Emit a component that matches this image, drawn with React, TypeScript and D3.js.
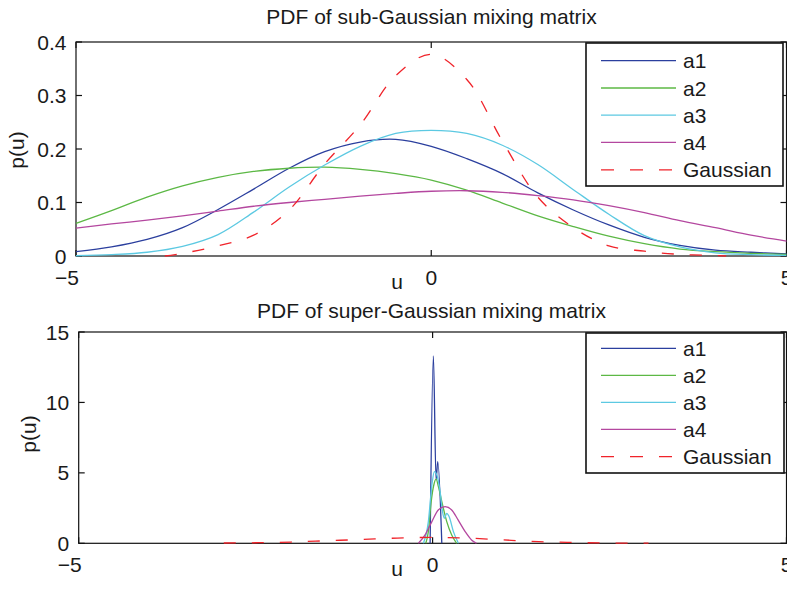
import React from "react";
import * as d3 from "d3";

// ---------- data ----------
const uGrid = [-5, -4.5, -4, -3.5, -3, -2.5, -2, -1.5, -1, -0.5, 0, 0.5, 1, 1.5, 2, 2.5, 3, 3.5, 4, 4.5, 5];
const subA1 = [0.008, 0.017, 0.031, 0.053, 0.087, 0.125, 0.164, 0.195, 0.213, 0.218, 0.205, 0.182, 0.154, 0.118, 0.086, 0.058, 0.035, 0.02, 0.011, 0.007, 0.004];
const subA2 = [0.061, 0.085, 0.11, 0.131, 0.147, 0.158, 0.164, 0.166, 0.162, 0.154, 0.142, 0.123, 0.099, 0.075, 0.055, 0.037, 0.023, 0.013, 0.008, 0.005, 0.003];
const subA3 = [0.0005, 0.0025, 0.007, 0.018, 0.04, 0.082, 0.129, 0.17, 0.205, 0.229, 0.235, 0.229, 0.207, 0.171, 0.124, 0.078, 0.038, 0.017, 0.006, 0.0025, 0.001];
const subA4 = [0.052, 0.06, 0.067, 0.075, 0.084, 0.093, 0.1, 0.106, 0.112, 0.117, 0.121, 0.122, 0.119, 0.113, 0.105, 0.094, 0.081, 0.066, 0.053, 0.039, 0.028];
const subGaussU = [-3.75, -3.5, -3, -2.5, -2, -1.5, -1, -0.5, 0, 0.5, 1, 1.5, 2, 2.5, 3, 3.5, 4, 4.15];
const subGauss = [0, 0.005, 0.019, 0.039, 0.086, 0.172, 0.245, 0.337, 0.377, 0.33, 0.215, 0.11, 0.053, 0.019, 0.009, 0.003, 0.001, 0];

const supA1U = [-0.035, 0.011, 0.049, 0.073, 0.13];
const supA1 = [0, 13.3, 4.5, 5.8, 0];
const supA2U = [-0.096, -0.06, -0.02, 0.017, 0.05, 0.083, 0.13, 0.2, 0.27, 0.34];
const supA2 = [0, 0.83, 2.96, 4.14, 4.55, 4.0, 2.96, 1.54, 0.59, 0];
const supA3U = [-0.13, -0.06, -0.01, 0.025, 0.06, 0.106, 0.14, 0.167, 0.2, 0.233, 0.294, 0.365];
const supA3 = [0, 1.54, 4.14, 5.09, 4.85, 3.67, 2.25, 1.78, 2.13, 1.9, 0.83, 0];
const supA4U = [-0.2, -0.106, -0.01, 0.08, 0.177, 0.27, 0.36, 0.46, 0.55, 0.62];
const supA4 = [0, 0.6, 1.54, 2.37, 2.6, 2.37, 1.66, 0.83, 0.24, 0];
const supGaussU = [-2.95, -2.5, -2, -1.5, -1, -0.5, 0, 0.5, 1, 1.5, 2, 2.5, 3.05];
const supGauss = [0.02, 0.04, 0.09, 0.18, 0.27, 0.37, 0.42, 0.37, 0.24, 0.12, 0.055, 0.02, 0.01];

const seriesNames = ["a1", "a2", "a3", "a4", "Gaussian"];
const seriesColors = ["#2b3f9e", "#5cb845", "#5cc9e2", "#b4479f", "#f0232a"];

const xTicks = [-5, 0, 5];
const subYTicks = [0, 0.1, 0.2, 0.3, 0.4];
const supYTicks = [0, 5, 10, 15];

const FONT = "'Liberation Sans', Arial, Helvetica, sans-serif";
const FS = 21;
const TXT = "#1a1a1a";

type Panel = {
  title: string;
  left: number; right: number; top: number; bottom: number;
  yMax: number; yTicks: number[];
  series: { u: number[]; v: number[] }[];
  yLabelX: number; yLabelY: number;
  titleY: number;
  legendBox: [number, number, number, number];
  legendRowY: number[];
  smooth: boolean;
};

function Axes({ p }: { p: Panel }) {
  const x = d3.scaleLinear().domain([-5, 5]).range([p.left, p.right]);
  const y = d3.scaleLinear().domain([0, p.yMax]).range([p.bottom, p.top]);
  const line = d3
    .line<[number, number]>()
    .x((d) => x(d[0]))
    .y((d) => y(Math.max(0, d[1])))
    .curve(p.smooth ? d3.curveCatmullRom.alpha(0.5) : d3.curveMonotoneX);
  const tl = 6;
  const [lx0, ly0, lx1, ly1] = p.legendBox;
  return (
    <g>
      <rect x={p.left} y={p.top} width={p.right - p.left} height={p.bottom - p.top} fill="#fff" stroke="#111" strokeWidth={1.2} />
      {p.yTicks.map((t) => (
        <g key={"y" + t}>
          <line x1={p.left} x2={p.left + tl} y1={y(t)} y2={y(t)} stroke="#111" strokeWidth={1.2} />
          <line x1={p.right} x2={p.right - tl} y1={y(t)} y2={y(t)} stroke="#111" strokeWidth={1.2} />
          <text x={p.left - 9.5} y={y(t)} dy="0.36em" textAnchor="end" fontSize={FS} fontFamily={FONT} fill={TXT}>
            {String(t)}
          </text>
        </g>
      ))}
      {xTicks.map((t) => (
        <g key={"x" + t}>
          <line x1={x(t)} x2={x(t)} y1={p.bottom} y2={p.bottom - tl} stroke="#111" strokeWidth={1.2} />
          <line x1={x(t)} x2={x(t)} y1={p.top} y2={p.top + tl} stroke="#111" strokeWidth={1.2} />
          <text
            x={t < 0 ? x(t) + 3 : x(t)}
            y={p.bottom + 29}
            textAnchor={t < 0 ? "end" : "middle"}
            fontSize={FS}
            fontFamily={FONT}
            fill={TXT}
          >
            {t < 0 ? "\u2212" + Math.abs(t) : String(t)}
          </text>
        </g>
      ))}
      {p.series.map((s, i) => (
        <path
          key={"s" + i}
          d={line(s.u.map((u, k) => [u, s.v[k]] as [number, number])) || ""}
          fill="none"
          stroke={seriesColors[i]}
          strokeWidth={1.3}
          strokeDasharray={i === 4 ? "12,16" : undefined}
        />
      ))}
      <text x={431.5} y={p.titleY} textAnchor="middle" fontSize={FS} fontFamily={FONT} fill={TXT}>
        {p.title}
      </text>
      <text x={397} y={p.bottom + 33} textAnchor="middle" fontSize={FS} fontFamily={FONT} fill={TXT}>
        u
      </text>
      <text
        transform={`translate(${p.yLabelX},${p.yLabelY}) rotate(-90)`}
        textAnchor="middle"
        fontSize={FS}
        fontFamily={FONT}
        fill={TXT}
      >
        p(u)
      </text>
      <rect x={lx0} y={ly0} width={lx1 - lx0} height={ly1 - ly0} fill="#fff" stroke="#111" strokeWidth={1.6} />
      {seriesNames.map((n, i) => (
        <g key={"l" + i}>
          <line
            x1={601}
            x2={676}
            y1={p.legendRowY[i]}
            y2={p.legendRowY[i]}
            stroke={seriesColors[i]}
            strokeWidth={1.3}
            strokeDasharray={i === 4 ? "13,16" : undefined}
          />
          <text x={683} y={p.legendRowY[i]} dy="0.36em" fontSize={FS} fontFamily={FONT} fill={TXT}>
            {n}
          </text>
        </g>
      ))}
    </g>
  );
}

export default function App() {
  const top: Panel = {
    title: "PDF of sub-Gaussian mixing matrix",
    left: 76, right: 786.5, top: 42, bottom: 256,
    yMax: 0.4, yTicks: subYTicks,
    series: [
      { u: uGrid, v: subA1 },
      { u: uGrid, v: subA2 },
      { u: uGrid, v: subA3 },
      { u: uGrid, v: subA4 },
      { u: subGaussU, v: subGauss },
    ],
    yLabelX: 24, yLabelY: 150,
    titleY: 24,
    legendBox: [586, 43, 783, 186],
    legendRowY: [60.7, 88, 115.2, 142.4, 169.8],
    smooth: true,
  };
  const bot: Panel = {
    title: "PDF of super-Gaussian mixing matrix",
    left: 78.7, right: 786.5, top: 332, bottom: 543.3,
    yMax: 15, yTicks: supYTicks,
    series: [
      { u: supA1U, v: supA1 },
      { u: supA2U, v: supA2 },
      { u: supA3U, v: supA3 },
      { u: supA4U, v: supA4 },
      { u: supGaussU, v: supGauss },
    ],
    yLabelX: 36, yLabelY: 434,
    titleY: 318,
    legendBox: [586, 333, 784, 473],
    legendRowY: [348.3, 375.3, 402.4, 429.4, 456.6],
    smooth: false,
  };
  return (
    <svg width={787} height={590} style={{ position: "absolute", left: 0, top: 0, background: "#fff" }}>
      <rect width={787} height={590} fill="#fff" />
      <Axes p={top} />
      <Axes p={bot} />
    </svg>
  );
}
